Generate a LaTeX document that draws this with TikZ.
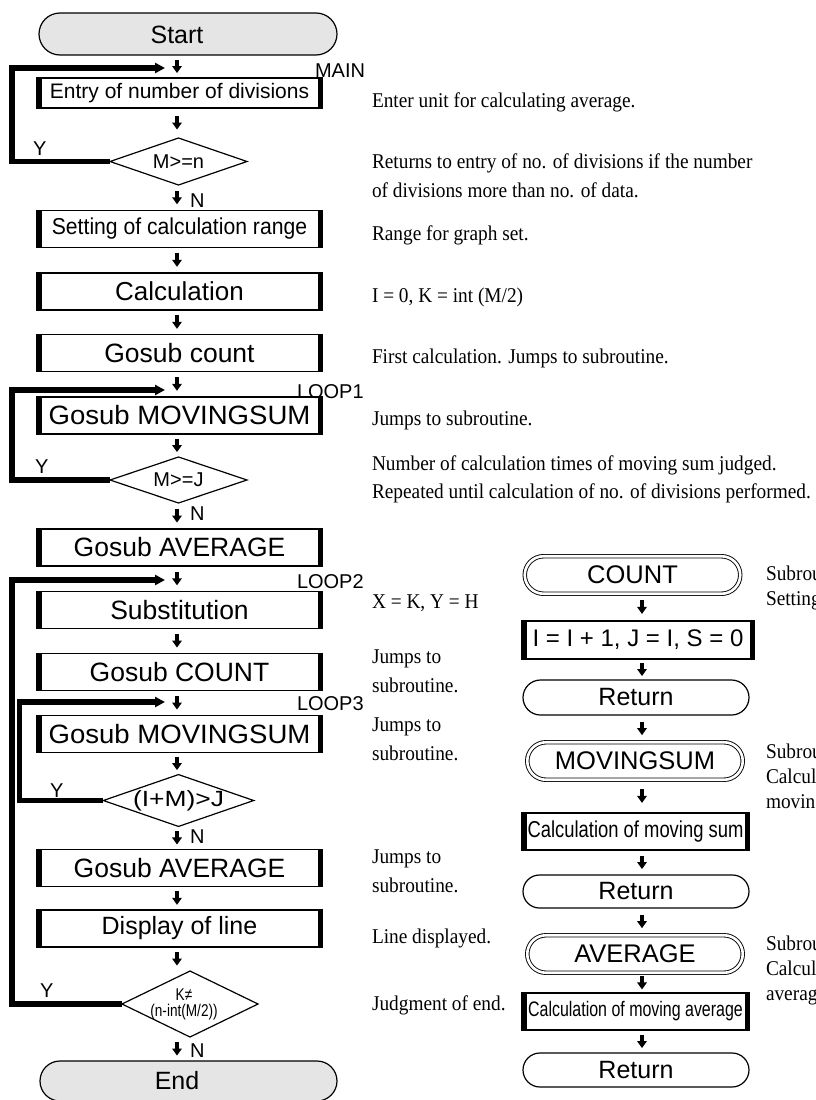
\documentclass[tikz,border=0pt]{standalone}
\usepackage{fontspec}
\setmainfont{Liberation Sans}
\newfontfamily\notefont[FakeStretch=0.92]{Liberation Serif}
\usetikzlibrary{shapes.geometric,shapes.misc,decorations.markings,arrows.meta}
\newcommand\fsize[1]{\fontsize{#1}{#1}\selectfont}
\newcommand\sx[2]{\scalebox{#1}[1]{#2}}
\tikzset{
  every node/.style={inner sep=0pt, outer sep=0pt},
  procbox/.style={draw, line width=1.2pt, minimum height=37pt, font=\fsize{26.5pt},
    path picture={\draw[line width=9pt]
      (path picture bounding box.north west) -- (path picture bounding box.south west)
      (path picture bounding box.north east) -- (path picture bounding box.south east);}},
  mainbox/.style={procbox, minimum width=285pt},
  terminal/.style={draw, line width=1.2pt, rounded rectangle, fill=black!10},
  pill/.style={draw, line width=1.2pt, rounded rectangle, minimum width=226pt, font=\fsize{25pt}},
  subpill/.style={draw, line width=0.9pt, double, double distance=2.6pt, rounded rectangle,
    minimum width=215.5pt, minimum height=37.5pt, font=\fsize{25.5pt}},
  decision/.style={draw, line width=1.2pt, diamond, aspect=2.9, font=\fsize{20pt}},
  dn/.style={postaction={decorate}, decoration={markings, mark=at position 0.5 with {
      \fill (-7pt,-1.7pt) rectangle (0.5pt,1.7pt);
      \fill (-0.5pt,-5pt) -- (6.5pt,0pt) -- (-0.5pt,5pt) -- cycle;}}},
  loopline/.style={line width=5.5pt, line join=miter, -{Triangle[length=10pt,width=10pt]}},
  tag/.style={anchor=base west, font=\fsize{20pt}},
  note/.style={anchor=base west, font=\notefont\fsize{21pt}},
}
\begin{document}
\begin{tikzpicture}[x=1pt,y=-1pt]
\useasboundingbox (0,0) rectangle (815,1100);
\begin{scope}
\clip (0,0) rectangle (815,1100);

% main flow axis
\coordinate (ax) at (177,0);

% ---- main routine ----
\node[terminal, minimum width=298pt, minimum height=42pt] (start) at (188,34) {};
\node[font=\fsize{25pt}] (starttxt) at (177,34.5) {Start};
\node[mainbox, minimum height=30pt, font=\fsize{21pt}] (entry) at (179.5,93) {Entry of number of divisions};
\node[decision, minimum width=137pt, minimum height=47pt] (d1) at (178.5,161.5) {M>=n};
\node[mainbox, font=\fsize{23pt}] (setrange) at (179.5,229) {\sx{0.92}{Setting of calculation range}};
\node[mainbox, font=\fsize{26pt}] (calc) at (179.5,291.5) {Calculation};
\node[mainbox] (gcount) at (179.5,353) {Gosub count};
\node[mainbox] (gmov1) at (179.5,415.5) {\sx{1.04}{Gosub MOVINGSUM}};
\node[decision, minimum width=137pt, minimum height=46pt] (d2) at (178.5,480) {M>=J};
\node[mainbox] (gavg1) at (179.5,547.5) {Gosub AVERAGE};
\node[mainbox] (subst) at (179.5,610) {Substitution};
\node[mainbox] (gcnt2) at (179.5,672) {Gosub COUNT};
\node[mainbox] (gmov2) at (179.5,734) {\sx{1.04}{Gosub MOVINGSUM}};
\node[decision, minimum width=137pt, minimum height=47pt, font=\fsize{22pt}] (d3) at (178.5,800.5) {\sx{1.2}{(I+M)>J}};
\node[mainbox] (gavg2) at (179.5,868) {Gosub AVERAGE};
\node[mainbox, font=\fsize{25pt}] (disp) at (179.5,928.5) {Display of line};
\node[decision, aspect=2.06, minimum width=136pt, minimum height=66pt] (d4) at (190,1004) {};
\node[align=center, font=\fsize{17pt}] (d4txt) at (184,1004) {\sx{0.8}{K≠}\\[-1pt]\sx{0.8}{(n-int(M/2))}};
\node[terminal, minimum width=297pt, minimum height=40pt] (end) at (188.5,1081) {};
\node[font=\fsize{25pt}] (endtxt) at (177,1081) {End};

% short down arrows between the steps
\path[dn] (start.south -| ax) -- (entry.north -| ax);
\path[dn] (entry.south -| ax) -- (d1.north -| ax);
\path[dn] (d1.south -| ax) -- (setrange.north -| ax);
\path[dn] (setrange.south -| ax) -- (calc.north -| ax);
\path[dn] (calc.south -| ax) -- (gcount.north -| ax);
\path[dn] (gcount.south -| ax) -- (gmov1.north -| ax);
\path[dn] (gmov1.south -| ax) -- (d2.north -| ax);
\path[dn] (d2.south -| ax) -- (gavg1.north -| ax);
\path[dn] (gavg1.south -| ax) -- (subst.north -| ax);
\path[dn] (subst.south -| ax) -- (gcnt2.north -| ax);
\path[dn] (gcnt2.south -| ax) -- (gmov2.north -| ax);
\path[dn] (gmov2.south -| ax) -- (d3.north -| ax);
\path[dn] (d3.south -| ax) -- (gavg2.north -| ax);
\path[dn] (gavg2.south -| ax) -- (disp.north -| ax);
\path[dn] (disp.south -| ax) -- (d4.north -| ax);
\path[dn] (d4.south -| ax) -- (end.north -| ax);

% loop-back lines
\coordinate (main) at (165,68);
\coordinate (loop1) at (165,390);
\coordinate (loop2) at (165,580);
\coordinate (loop3) at (165,702);
\draw[loopline] (d1.west) -- ++(-98,0) |- (main);
\draw[loopline] (d2.west) -- ++(-98,0) |- (loop1);
\draw[loopline] (d4.west) -- ++(-110,0) |- (loop2);
\draw[loopline] (d3.west) -- ++(-84,0) |- (loop3);

% branch and loop labels
\node[tag] (tmain) at (315,77) {MAIN};
\node[tag] (tl1) at (297,398) {LOOP1};
\node[tag] (tl2) at (297,588) {LOOP2};
\node[tag] (tl3) at (297,710) {LOOP3};
\node[tag] (y1) at (33,155) {Y};
\node[tag] (y2) at (35,473) {Y};
\node[tag] (y3) at (50,797) {Y};
\node[tag] (y4) at (40,997) {Y};
\node[tag] (n1) at (190,207) {N};
\node[tag] (n2) at (190,520) {N};
\node[tag] (n3) at (190,843) {N};
\node[tag] (n4) at (190,1057) {N};

% ---- subroutines ----
\coordinate (rx) at (642,0);
\node[subpill] (scount) at (632.5,575) {COUNT};
\node[procbox, minimum width=232pt, minimum height=38pt, font=\fsize{24pt}] (inc) at (638,640) {I = I + 1, J = I, S = 0};
\node[pill, minimum height=35pt] (ret1) at (636,697.5) {Return};
\node[subpill] (smov) at (635,761) {MOVINGSUM};
\node[procbox, minimum width=227pt, font=\fsize{23pt}] (msum) at (635.5,831.5) {\sx{0.8}{Calculation of moving sum}};
\node[pill, minimum height=33pt] (ret2) at (636,891.5) {Return};
\node[subpill] (savg) at (635,954) {AVERAGE};
\node[procbox, minimum width=227pt, font=\fsize{21pt}] (mavg) at (635.5,1011.5) {\sx{0.76}{Calculation of moving average}};
\node[pill, minimum height=34pt] (ret3) at (636,1070) {Return};

\path[dn] (scount.south -| rx) -- (inc.north -| rx);
\path[dn] (inc.south -| rx) -- (ret1.north -| rx);
\path[dn] (ret1.south -| rx) -- (smov.north -| rx);
\path[dn] (smov.south -| rx) -- (msum.north -| rx);
\path[dn] (msum.south -| rx) -- (ret2.north -| rx);
\path[dn] (ret2.south -| rx) -- (savg.north -| rx);
\path[dn] (savg.south -| rx) -- (mavg.north -| rx);
\path[dn] (mavg.south -| rx) -- (ret3.north -| rx);

% ---- explanatory notes ----
\node[note] (c1) at (372,107) {Enter unit for calculating average.};
\node[note] (c2a) at (372,168) {Returns to entry of no. of divisions if the number};
\node[note] (c2b) at (372,197) {of divisions more than no. of data.};
\node[note] (c3) at (372,240) {Range for graph set.};
\node[note] (c4) at (372,302) {I = 0, K = int (M/2)};
\node[note] (c5) at (372,363) {First calculation. Jumps to subroutine.};
\node[note] (c6) at (372,425) {Jumps to subroutine.};
\node[note] (c7a) at (372,470) {Number of calculation times of moving sum judged.};
\node[note] (c7b) at (372,498) {Repeated until calculation of no. of divisions performed.};
\node[note] (c8) at (372,608) {X = K, Y = H};
\node[note] (c9a) at (372,663) {Jumps to};
\node[note] (c9b) at (372,692) {subroutine.};
\node[note] (c10a) at (372,731) {Jumps to};
\node[note] (c10b) at (372,760) {subroutine.};
\node[note] (c11a) at (372,863) {Jumps to};
\node[note] (c11b) at (372,892) {subroutine.};
\node[note] (c12) at (372,943) {Line displayed.};
\node[note] (c13) at (372,1010) {Judgment of end.};

\node[note] (s1a) at (766,580) {Subroutine};
\node[note] (s1b) at (766,605) {Setting};
\node[note] (s2a) at (766,758) {Subroutine};
\node[note] (s2b) at (766,783) {Calculation};
\node[note] (s2c) at (766,808) {moving};
\node[note] (s3a) at (766,950) {Subroutine};
\node[note] (s3b) at (766,975) {Calculation};
\node[note] (s3c) at (766,1000) {average};
\end{scope}
\end{tikzpicture}
\end{document}
